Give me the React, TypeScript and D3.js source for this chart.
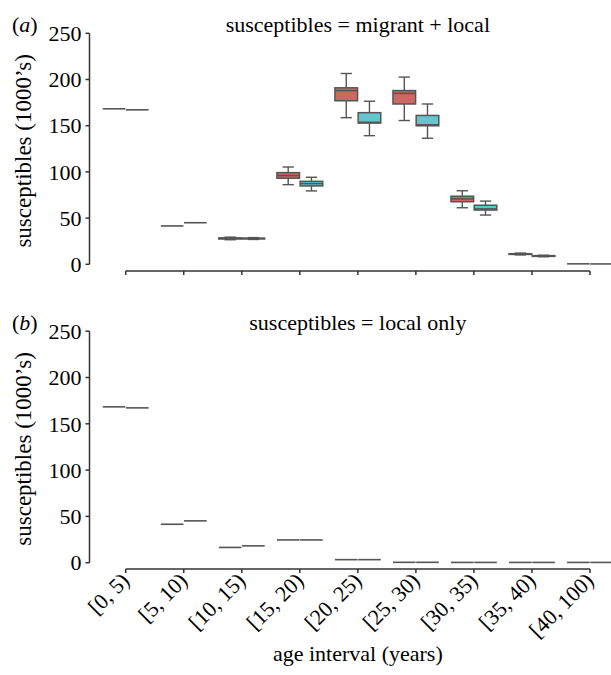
import React from "react";
import * as d3 from "d3";

const categories = ["[0, 5)", "[5, 10)", "[10, 15)", "[15, 20)", "[20, 25)", "[25, 30)", "[30, 35)", "[35, 40)", "[40, 100)"];
const yTicks = [0, 50, 100, 150, 200, 250];

// [whiskerLow, q1, median, q3, whiskerHigh]
const migrantA: number[][] = [
  [168.3, 168.3, 168.3, 168.3, 168.3],
  [41.5, 41.5, 41.5, 41.5, 41.5],
  [26.6, 27.4, 28.0, 28.6, 29.4],
  [86.2, 93.1, 96.0, 99.2, 105.3],
  [158.7, 177.0, 188.0, 191.0, 206.5],
  [155.6, 173.5, 185.0, 188.0, 202.6],
  [61.2, 67.7, 70.8, 73.7, 79.6],
  [10.2, 10.7, 11.1, 11.5, 12.1],
  [0.5, 0.5, 0.5, 0.5, 0.5],
];
const localA: number[][] = [
  [167.2, 167.2, 167.2, 167.2, 167.2],
  [45.0, 45.0, 45.0, 45.0, 45.0],
  [26.9, 27.5, 27.9, 28.3, 28.9],
  [79.4, 84.8, 87.3, 89.8, 94.2],
  [139.2, 152.8, 153.7, 164.1, 176.5],
  [136.4, 149.9, 151.0, 161.1, 173.5],
  [53.3, 58.7, 60.0, 63.9, 68.4],
  [8.2, 8.6, 9.0, 9.4, 9.8],
  [0.4, 0.4, 0.4, 0.4, 0.4],
];
const migrantB: number[] = [168.3, 41.5, 16.5, 24.6, 3.3, 0.4, 0.3, 0.3, 0.3];
const localB: number[] = [167.2, 45.2, 18.2, 24.6, 3.3, 0.4, 0.3, 0.3, 0.3];

const FONT = "'Liberation Serif', 'Times New Roman', 'DejaVu Serif', serif";
const RED = "#CC6762";
const CYAN = "#66C4CC";
const EDGE = "#555555";
const AXIS = "#333333";

const x = d3.scaleBand<string>().domain(categories).range([96.7, 619]).padding(0);
const step = x.step();
const boxW = step * 0.4 - 0.6;

type Panel = {
  top: number;
  bottom: number;
  axisY: number;
  label: string;
  title: string;
  titleY: number;
  migrant: number[][];
  local: number[][];
  showLabels: boolean;
};

function Box({ cx, s, y, fill }: { cx: number; s: number[]; y: d3.ScaleLinear<number, number>; fill: string }) {
  const [wl, q1, med, q3, wh] = s;
  const yTop = y(q3);
  const yBot = y(q1);
  const h = Math.max(0, yBot - yTop);
  const capHalf = boxW / 4;
  if (h < 0.5 && wh - wl < 0.01) {
    return (
      <line x1={cx - boxW / 2} x2={cx + boxW / 2} y1={y(med)} y2={y(med)} stroke={EDGE} strokeWidth={1.6} />
    );
  }
  return (
    <g>
      <line x1={cx} x2={cx} y1={y(wh)} y2={yTop} stroke={EDGE} strokeWidth={1.4} />
      <line x1={cx} x2={cx} y1={yBot} y2={y(wl)} stroke={EDGE} strokeWidth={1.4} />
      <line x1={cx - capHalf} x2={cx + capHalf} y1={y(wh)} y2={y(wh)} stroke={EDGE} strokeWidth={1.4} />
      <line x1={cx - capHalf} x2={cx + capHalf} y1={y(wl)} y2={y(wl)} stroke={EDGE} strokeWidth={1.4} />
      <rect x={cx - boxW / 2} y={yTop} width={boxW} height={h} fill={fill} stroke={EDGE} strokeWidth={1.5} />
      <line x1={cx - boxW / 2} x2={cx + boxW / 2} y1={y(med)} y2={y(med)} stroke={EDGE} strokeWidth={1.5} />
    </g>
  );
}

function PanelView({ p }: { p: Panel }) {
  const y = d3.scaleLinear().domain([0, 250]).range([p.bottom, p.top]);
  const axisX = 89.5;
  const first = x(categories[0])! + step / 2;
  const last = x(categories[categories.length - 1])! + step / 2;
  const midX = (first + last) / 2;
  return (
    <g fontFamily={FONT}>
      <text x={12} y={p.titleY} fontSize={22} fill="#000">
        (<tspan fontStyle="italic">{p.label}</tspan>)
      </text>
      <text x={midX} y={p.titleY} fontSize={22} textAnchor="middle" fill="#000">
        {p.title}
      </text>
      <text
        transform={`translate(31, ${(p.top + p.bottom) / 2 + 2}) rotate(-90)`}
        textAnchor="middle"
        fontSize={23}
        fill="#000"
      >
        susceptibles (1000’s)
      </text>
      {/* y axis */}
      <line x1={axisX} x2={axisX} y1={y(250)} y2={y(0)} stroke={AXIS} strokeWidth={1.5} />
      {yTicks.map((t) => (
        <g key={t}>
          <line x1={axisX - 4} x2={axisX} y1={y(t)} y2={y(t)} stroke={AXIS} strokeWidth={1.5} />
          <text x={axisX - 8} y={y(t)} dy="0.35em" textAnchor="end" fontSize={22} fill="#000">
            {t}
          </text>
        </g>
      ))}
      {/* x axis */}
      <line x1={first} x2={last} y1={p.axisY} y2={p.axisY} stroke={AXIS} strokeWidth={1.5} />
      {categories.map((c) => {
        const cx = x(c)! + step / 2;
        return (
          <g key={c}>
            <line x1={cx} x2={cx} y1={p.axisY} y2={p.axisY + 4} stroke={AXIS} strokeWidth={1.5} />
            {p.showLabels && (
              <text
                transform={`translate(${cx + 5}, ${p.axisY + 13}) rotate(-45)`}
                textAnchor="end"
                fontSize={22}
                fill="#000"
              >
                {c}
              </text>
            )}
          </g>
        );
      })}
      {/* boxes */}
      {categories.map((c, i) => {
        const cx = x(c)! + step / 2;
        return (
          <g key={"b" + c}>
            <Box cx={cx - step * 0.2} s={p.migrant[i]} y={y} fill={RED} />
            <Box cx={cx + step * 0.2} s={p.local[i]} y={y} fill={CYAN} />
          </g>
        );
      })}
    </g>
  );
}

export default function App() {
  const panels: Panel[] = [
    {
      top: 33.3,
      bottom: 264.3,
      axisY: 271,
      label: "a",
      title: "susceptibles = migrant + local",
      titleY: 32,
      migrant: migrantA,
      local: localA,
      showLabels: false,
    },
    {
      top: 331.2,
      bottom: 562.7,
      axisY: 569,
      label: "b",
      title: "susceptibles = local only",
      titleY: 330,
      migrant: migrantB.map((v) => [v, v, v, v, v]),
      local: localB.map((v) => [v, v, v, v, v]),
      showLabels: true,
    },
  ];
  const first = x(categories[0])! + step / 2;
  const last = x(categories[categories.length - 1])! + step / 2;
  return (
    <svg
      width={611}
      height={675}
      style={{ position: "absolute", left: 0, top: 0, background: "#fff" }}
      xmlns="http://www.w3.org/2000/svg"
    >
      <rect width={611} height={675} fill="#fff" />
      {panels.map((p) => (
        <PanelView key={p.label} p={p} />
      ))}
      <text x={(first + last) / 2} y={661} textAnchor="middle" fontSize={22} fontFamily={FONT} fill="#000">
        age interval (years)
      </text>
    </svg>
  );
}
